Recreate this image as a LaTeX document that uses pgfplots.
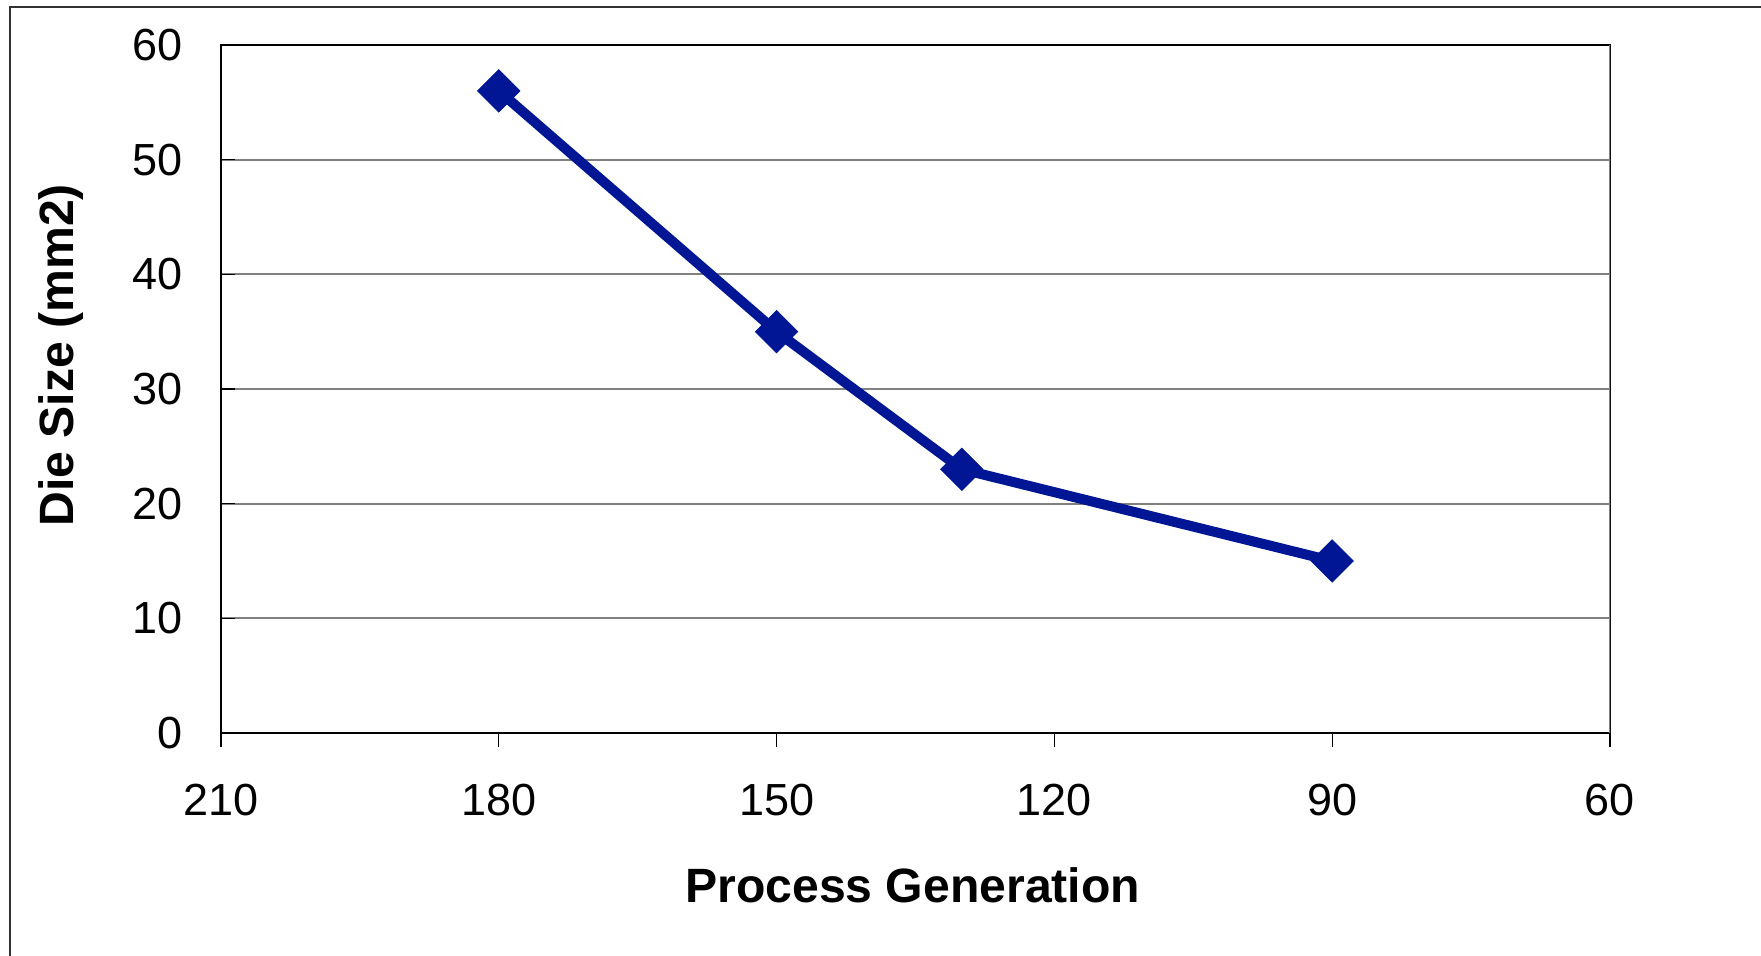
\documentclass[border=0pt]{standalone}
\usepackage{fontspec}
\setmainfont{Liberation Sans}
\usepackage{pgfplots}
\pgfplotsset{compat=1.18}
\definecolor{navy}{RGB}{0,22,148}
\definecolor{gridgray}{RGB}{128,128,128}
\begin{document}
\begin{tikzpicture}
\useasboundingbox (0,0) rectangle (176.1mm,-95.6mm);
\draw[black!80, line width=0.2mm] (1.0mm,-95.6mm) -- (1.0mm,-0.67mm) -- (176.1mm,-0.67mm);
\begin{axis}[
  at={(22.1mm,-4.5mm)}, anchor=north west,
  scale only axis, width=138.9mm, height=68.8mm,
  xmin=60, xmax=210, x dir=reverse,
  ymin=0, ymax=60,
  xtick={60,90,120,150,180,210},
  ytick={0,10,20,30,40,50,60},
  xtick pos=bottom, ytick pos=left,
  tick align=inside,
  major tick length=1.45mm,
  x tick style={black, line width=0.12mm, yshift=-1.45mm},
  y tick style={black, line width=0.12mm},
  ymajorgrids,
  grid style={gridgray, line width=0.2mm},
  axis line style={black, line width=0.12mm},
  /pgf/number format/assume math mode=true,
  ticklabel style={font=\fontsize{12.8}{15}\selectfont},
  yticklabel style={inner sep=0pt, anchor=east, xshift=-3.8mm},
  xticklabel style={inner sep=0pt, anchor=north, yshift=-5.0mm},
  xlabel={Process Generation},
  ylabel={Die Size (mm2)},
  label style={font=\fontsize{13.7}{16}\selectfont\bfseries},
  xlabel style={at={(axis description cs:0.498,-0.221)}, anchor=center},
  ylabel style={at={(axis description cs:-0.1152,0.549)}, anchor=center, rotate=0},
]
\addplot[navy, line width=1mm, mark=square*, mark size=1.5mm,
  mark options={solid, rotate=45, fill=navy, draw=navy, line width=0.2pt}]
  coordinates {(180,56) (150,35) (130,23) (90,15)};
\draw[gridgray, line width=0.2mm] (rel axis cs:1,0) -- (rel axis cs:1,1);
\end{axis}
\end{tikzpicture}
\end{document}
